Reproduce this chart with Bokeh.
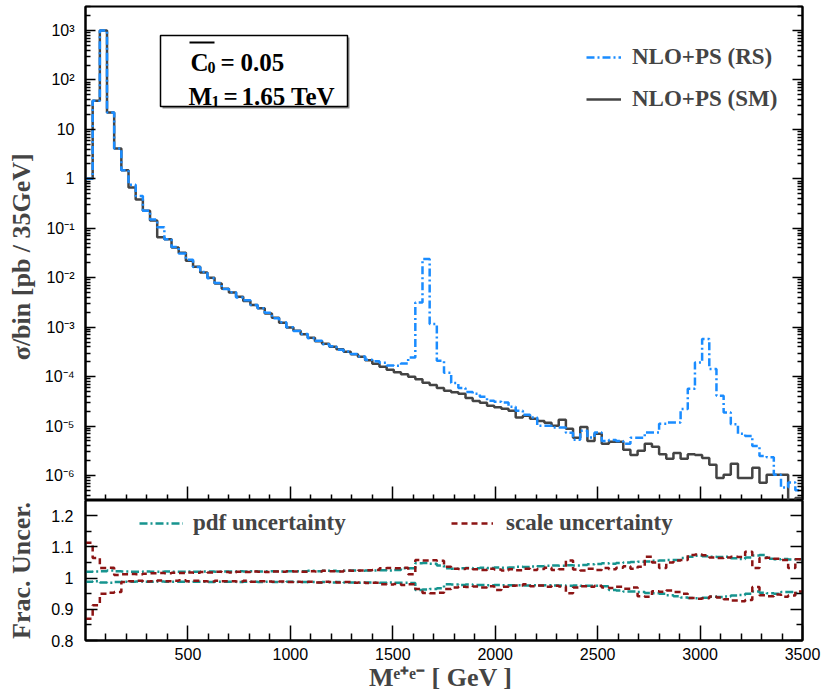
import numpy as np
from bokeh.plotting import figure
from bokeh.layouts import column
from bokeh.models import (FixedTicker, LogAxis, LinearAxis, Range1d, Label, BoxAnnotation,
                          Legend, LegendItem, CustomJSTickFormatter, ColumnDataSource)
from bokeh.embed import file_html
from bokeh.resources import INLINE

# ---------------- data ----------------
bin_width = 35.0
bin_lo = np.arange(0, 3500, 35.0)          # lower bin edges [GeV]

sigma_sm = [
    1.0, 38, 1000, 22, 4.1, 1.5, 0.67, 0.38, 0.227, 0.143,
    0.066, 0.060, 0.041, 0.032, 0.022, 0.0167, 0.0128, 0.0100, 0.0076, 0.0060,
    0.0050, 0.0041, 0.0034, 0.0028, 0.0024, 0.0019, 0.00155, 0.00123, 0.00099, 0.00085,
    0.00072, 0.00061, 0.00052, 0.00046, 0.00040, 0.000357, 0.000318, 0.000282, 0.000252, 0.000214,
    0.000182, 0.000158, 0.000137, 0.000122, 0.000111, 9.9e-5, 8.8e-5, 7.5e-5, 6.8e-5, 5.9e-5,
    5.2e-5, 4.8e-5, 4.5e-5, 3.7e-5, 3.2e-5, 2.95e-5, 2.56e-5, 2.39e-5, 2.23e-5, 2.03e-5,
    1.49e-5, 1.61e-5, 1.40e-5, 1.27e-5, 1.16e-5, 1.01e-5, 1.34e-5, 8.8e-6, 5.8e-6, 9.6e-6,
    5.0e-6, 7.0e-6, 4.4e-6, 4.8e-6, 4.8e-6, 3.3e-6, 2.6e-6, 3.15e-6, 4.4e-6, 3.8e-6,
    2.7e-6, 2.17e-6, 2.86e-6, 2.17e-6, 2.7e-6, 2.6e-6, 2.27e-6, 1.64e-6, 8.9e-7, 1.03e-6,
    1.72e-6, 8.9e-7, 8.9e-7, 1.43e-6, 7.1e-7, 1.03e-6, 1.03e-6, 1.03e-6, 1.0e-7, 3.5e-7,
]

sigma_rs = [
    1.0, 38, 1000, 22, 4.1, 1.5, 0.76, 0.45, 0.227, 0.15,
    0.105, 0.060, 0.042, 0.031, 0.023, 0.0165, 0.0130, 0.0098, 0.0078, 0.0059,
    0.0051, 0.0040, 0.0035, 0.0028, 0.0024, 0.00195, 0.00152, 0.00125, 0.00100, 0.00084,
    0.00073, 0.00060, 0.00053, 0.00045, 0.00041, 0.000350, 0.000322, 0.000285, 0.000255, 0.000220,
    0.000205, 0.000190, 0.000168, 0.000166, 0.000184, 0.000244, 0.00316, 0.0239, 0.00116, 0.000209,
    0.000119, 7.4e-5, 5.9e-5, 4.9e-5, 4.5e-5, 3.9e-5, 3.24e-5, 3.1e-5, 2.99e-5, 2.45e-5,
    2.03e-5, 1.69e-5, 1.49e-5, 1.01e-5, 1.01e-5, 9.3e-6, 9.3e-6, 7.3e-6, 5.3e-6, 8.0e-6,
    5.85e-6, 7.4e-6, 5.0e-6, 5.2e-6, 5.0e-6, 4.4e-6, 5.8e-6, 5.8e-6, 7.4e-6, 7.4e-6,
    1.11e-5, 1.18e-5, 1.18e-5, 2.2e-5, 5.66e-5, 1.93e-4, 5.74e-4, 1.42e-4, 4.1e-5, 1.87e-5,
    1.09e-5, 7.0e-6, 6.3e-6, 3.97e-6, 2.49e-6, 2.35e-6, 1.03e-6, 5.7e-7, 7.2e-7, 5.0e-7,
]

pdf_up = [
    1.020, 1.021, 1.022, 1.024, 1.022, 1.021, 1.020, 1.020, 1.021, 1.020,
    1.020, 1.021, 1.020, 1.020, 1.021, 1.020, 1.021, 1.021, 1.020, 1.021,
    1.021, 1.022, 1.021, 1.022, 1.021, 1.022, 1.022, 1.021, 1.022, 1.022,
    1.022, 1.023, 1.022, 1.023, 1.023, 1.022, 1.023, 1.024, 1.023, 1.024,
    1.024, 1.025, 1.024, 1.026, 1.031, 1.031, 1.047, 1.048, 1.046, 1.040,
    1.031, 1.030, 1.031, 1.032, 1.031, 1.033, 1.032, 1.034, 1.033, 1.034,
    1.036, 1.035, 1.037, 1.038, 1.039, 1.040, 1.039, 1.041, 1.040, 1.042,
    1.044, 1.045, 1.047, 1.046, 1.048, 1.050, 1.051, 1.052, 1.053, 1.055,
    1.056, 1.058, 1.058, 1.064, 1.068, 1.071, 1.070, 1.068, 1.067, 1.068,
    1.063, 1.061, 1.066, 1.072, 1.074, 1.062, 1.060, 1.061, 1.059, 1.060,
]
pdf_dn = [
    0.988, 0.990, 0.986, 0.985, 0.987, 0.988, 0.988, 0.989, 0.988, 0.988,
    0.989, 0.988, 0.988, 0.988, 0.989, 0.988, 0.988, 0.987, 0.988, 0.988,
    0.988, 0.987, 0.988, 0.988, 0.987, 0.988, 0.987, 0.987, 0.988, 0.987,
    0.987, 0.987, 0.986, 0.987, 0.986, 0.987, 0.986, 0.986, 0.985, 0.986,
    0.986, 0.985, 0.986, 0.985, 0.985, 0.984, 0.962, 0.963, 0.965, 0.967,
    0.980, 0.979, 0.978, 0.979, 0.978, 0.978, 0.977, 0.978, 0.977, 0.977,
    0.977, 0.976, 0.977, 0.976, 0.977, 0.976, 0.976, 0.975, 0.976, 0.975,
    0.975, 0.975, 0.974, 0.962, 0.960, 0.957, 0.957, 0.955, 0.952, 0.951,
    0.950, 0.945, 0.942, 0.938, 0.936, 0.935, 0.937, 0.940, 0.939, 0.941,
    0.944, 0.946, 0.950, 0.957, 0.953, 0.951, 0.950, 0.955, 0.955, 0.952,
]
scale_up = [
    1.113, 1.064, 1.032, 1.033, 1.010, 1.012, 1.013, 1.012, 1.014, 1.015,
    1.016, 1.015, 1.017, 1.016, 1.018, 1.017, 1.019, 1.018, 1.020, 1.019,
    1.018, 1.020, 1.019, 1.021, 1.020, 1.019, 1.021, 1.020, 1.022, 1.021,
    1.020, 1.022, 1.021, 1.023, 1.022, 1.021, 1.024, 1.023, 1.024, 1.025,
    1.026, 1.031, 1.032, 1.031, 1.033, 1.012, 1.058, 1.056, 1.057, 1.055,
    1.036, 1.030, 1.029, 1.031, 1.028, 1.026, 1.030, 1.027, 1.024, 1.028,
    1.025, 1.030, 1.026, 1.029, 1.033, 1.026, 1.028, 1.056, 1.027, 1.024,
    1.030, 1.026, 1.032, 1.028, 1.033, 1.038, 1.030, 1.036, 1.068, 1.050,
    1.032, 1.050, 1.056, 1.058, 1.074, 1.075, 1.073, 1.066, 1.064, 1.066,
    1.068, 1.067, 1.084, 1.032, 1.064, 1.065, 1.062, 1.058, 1.032, 1.060,
]
scale_dn = [
    0.870, 0.913, 0.950, 0.953, 0.955, 0.987, 0.990, 0.991, 0.989, 0.990,
    0.992, 0.990, 0.991, 0.993, 0.990, 0.991, 0.990, 0.989, 0.991, 0.990,
    0.990, 0.989, 0.991, 0.988, 0.990, 0.989, 0.988, 0.989, 0.987, 0.988,
    0.987, 0.988, 0.986, 0.988, 0.987, 0.986, 0.987, 0.985, 0.986, 0.984,
    0.985, 0.980, 0.979, 0.981, 0.978, 0.980, 0.965, 0.952, 0.951, 0.953,
    0.965, 0.970, 0.972, 0.971, 0.973, 0.970, 0.974, 0.962, 0.972, 0.975,
    0.976, 0.980, 0.974, 0.976, 0.972, 0.975, 0.973, 0.951, 0.970, 0.974,
    0.972, 0.975, 0.970, 0.968, 0.972, 0.966, 0.970, 0.942, 0.940, 0.958,
    0.956, 0.960, 0.955, 0.950, 0.936, 0.934, 0.935, 0.941, 0.938, 0.932,
    0.928, 0.926, 0.930, 0.971, 0.945, 0.942, 0.947, 0.940, 0.944, 0.957,
]

x_major = [500, 1000, 1500, 2000, 2500, 3000, 3500]
x_minor = [v for v in range(100, 3500, 100) if v % 500 != 0]
y_log_major = [1e-6, 1e-5, 1e-4, 1e-3, 1e-2, 1e-1, 1, 10, 100, 1000]
y_log_minor = [m * d for d in [1e-7, 1e-6, 1e-5, 1e-4, 1e-3, 1e-2, 1e-1, 1, 10, 100, 1000]
               for m in range(2, 10)]
y_lin_major = [0.8, 0.9, 1.0, 1.1, 1.2]
y_lin_minor = [0.85, 0.95, 1.05, 1.15, 1.25]

def step_src(vals):
    xs = list(bin_lo) + [bin_lo[-1] + bin_width]
    ys = list(vals) + [vals[-1]]
    return ColumnDataSource(dict(x=xs, y=ys))

# ---------------- styles ----------------
C_RS = "#1a8cff"
C_SM = "#444444"
C_PDF = "#17948f"
C_SCALE = "#8c1414"
SERIF = "Liberation Serif"
SANS = "Liberation Sans"

def style_axis(ax, major_in, minor_in, show_labels=True):
    ax.major_tick_in = major_in
    ax.major_tick_out = 0
    ax.minor_tick_in = minor_in
    ax.minor_tick_out = 0
    ax.axis_line_width = 2
    ax.axis_line_color = "black"
    ax.major_tick_line_width = 1.5
    ax.minor_tick_line_width = 1.5
    ax.major_tick_line_color = "black"
    ax.minor_tick_line_color = "black"
    ax.major_label_text_font = SANS
    ax.major_label_text_color = "black"
    if show_labels:
        ax.major_label_text_font_size = "16px"
    else:
        ax.formatter = CustomJSTickFormatter(code="return '';")
        ax.major_label_text_font_size = "1px"
        ax.major_label_standoff = 0
        ax.axis_label_standoff = 0

def screen_box(fig, l, r, t, b, **kw):
    fig.add_layout(BoxAnnotation(left=l, right=r, top=t, bottom=b,
                                 left_units="screen", right_units="screen",
                                 top_units="screen", bottom_units="screen",
                                 fill_alpha=1, line_alpha=1, **kw))

def lab(fig, x, y, text, size, bold=True):
    fig.add_layout(Label(x=x, y=y, x_units="screen", y_units="screen", text=text,
                         text_font=SERIF, text_font_size=size,
                         text_font_style="bold" if bold else "normal",
                         text_baseline="alphabetic", text_align="left",
                         text_color="black"))

# ---------------- top panel ----------------
top = figure(frame_width=717, frame_height=494, x_range=Range1d(0, 3500),
             y_range=Range1d(3.12e-7, 3060), y_axis_type="log",
             output_backend="svg", toolbar_location=None,
             min_border_left=85, min_border_right=22, min_border_top=6, min_border_bottom=0)
top.grid.visible = False
top.outline_line_color = "black"
top.outline_line_width = 2
top.background_fill_color = "white"
top.border_fill_color = "white"

xa = top.xaxis[0]
xa.ticker = FixedTicker(ticks=x_major, minor_ticks=x_minor)
style_axis(xa, 14, 6, show_labels=False)

ya = top.yaxis[0]
ya.ticker = FixedTicker(ticks=y_log_major, minor_ticks=y_log_minor)
ya.formatter = CustomJSTickFormatter(code="""
const sup = {"-":"\u207b","0":"\u2070","1":"\u00b9","2":"\u00b2","3":"\u00b3","4":"\u2074",
             "5":"\u2075","6":"\u2076","7":"\u2077","8":"\u2078","9":"\u2079"};
const e = Math.round(Math.log10(tick));
if (e == 0) return "1";
if (e == 1) return "10";
return "10" + String(e).split("").map(c => sup[c]).join("");
""")
style_axis(ya, 10, 5)
ya.major_label_standoff = 11
ya.axis_label = "\u03c3/bin  [pb / 35GeV]"
ya.axis_label_text_font = SERIF
ya.axis_label_text_font_style = "bold"
ya.axis_label_text_font_size = "26px"
ya.axis_label_standoff = 6

ra = LogAxis(ticker=FixedTicker(ticks=y_log_major, minor_ticks=y_log_minor))
style_axis(ra, 10, 5, show_labels=False)
top.add_layout(ra, "right")

sm_r = top.step("x", "y", source=step_src(sigma_sm), mode="after",
                line_color=C_SM, line_width=2.5)
rs_r = top.step("x", "y", source=step_src(sigma_rs), mode="after",
                line_color=C_RS, line_width=2.5, line_dash="8 3 2 3")

leg_top = Legend(items=[LegendItem(label="NLO+PS (RS)", renderers=[rs_r]),
                        LegendItem(label="NLO+PS (SM)", renderers=[sm_r])],
                 location=(501, 388), orientation="vertical", padding=0, margin=0,
                 spacing=16, glyph_width=35, glyph_height=26, label_height=26,
                 label_standoff=11, label_text_font=SERIF, label_text_font_style="bold",
                 label_text_font_size="23px", border_line_color=None,
                 background_fill_alpha=0)
top.add_layout(leg_top, "center")

# parameter box (shadow, box, overline of C0)
screen_box(top, 77, 264, 463, 392, fill_color="#8a8a8a", line_color=None)
screen_box(top, 75, 262, 465, 394, fill_color="white", line_color="black", line_width=1.5)
screen_box(top, 104, 129, 459, 457, fill_color="black", line_color=None)

lab(top, 105, 438, "C", "25px")
lab(top, 122, 433, "0", "16px")
lab(top, 135, 438, "=", "25px")
lab(top, 155, 438, "0.05", "25px")
lab(top, 103, 404, "M", "25px")
lab(top, 126, 399, "1", "16px")
lab(top, 138, 404, "=", "25px")
lab(top, 156, 404, "1.65 TeV", "25px")

# ---------------- bottom panel ----------------
bot = figure(frame_width=717, frame_height=140, x_range=top.x_range,
             y_range=Range1d(0.8, 1.248),
             output_backend="svg", toolbar_location=None,
             min_border_left=85, min_border_right=22, min_border_top=0, min_border_bottom=54)
bot.grid.visible = False
bot.outline_line_color = "black"
bot.outline_line_width = 2
bot.background_fill_color = "white"
bot.border_fill_color = "white"

bxa = bot.xaxis[0]
bxa.ticker = FixedTicker(ticks=x_major, minor_ticks=x_minor)
style_axis(bxa, 15, 7)
bxa.major_label_standoff = 7
bxa.axis_label = "M\u1d49\u207a\u1d49\u207b  [ GeV ]"
bxa.axis_label_text_font = SERIF
bxa.axis_label_text_font_style = "bold"
bxa.axis_label_text_font_size = "26px"
bxa.axis_label_standoff = 0

bya = bot.yaxis[0]
bya.ticker = FixedTicker(ticks=y_lin_major, minor_ticks=y_lin_minor)
bya.major_label_overrides = {0.8: "0.8", 0.9: "0.9", 1.0: "1", 1.1: "1.1", 1.2: "1.2"}
style_axis(bya, 12, 6)
bya.major_label_standoff = 12
bya.axis_label = "Frac. Uncer."
bya.axis_label_text_font = SERIF
bya.axis_label_text_font_style = "bold"
bya.axis_label_text_font_size = "26px"
bya.axis_label_standoff = 12

bra = LinearAxis(ticker=FixedTicker(ticks=y_lin_major, minor_ticks=y_lin_minor))
style_axis(bra, 12, 6, show_labels=False)
bot.add_layout(bra, "right")

pu_r = bot.step("x", "y", source=step_src(pdf_up), mode="after",
                line_color=C_PDF, line_width=2.5, line_dash="8 3 2 3")
bot.step("x", "y", source=step_src(pdf_dn), mode="after",
         line_color=C_PDF, line_width=2.5, line_dash="8 3 2 3")
su_r = bot.step("x", "y", source=step_src(scale_up), mode="after",
                line_color=C_SCALE, line_width=2.5, line_dash="6 4")
bot.step("x", "y", source=step_src(scale_dn), mode="after",
         line_color=C_SCALE, line_width=2.5, line_dash="6 4")

for items, loc, gw, st in [([LegendItem(label="pdf uncertainty", renderers=[pu_r])], (54, 104), 44, 10),
                           ([LegendItem(label="scale uncertainty", renderers=[su_r])], (366, 104), 42, 13)]:
    bot.add_layout(Legend(items=items, location=loc, orientation="horizontal",
                          padding=0, margin=0, glyph_width=gw, glyph_height=26,
                          label_height=26, label_standoff=st, label_text_font=SERIF,
                          label_text_font_style="bold", label_text_font_size="23px",
                          border_line_color=None, background_fill_alpha=0), "center")

layout = column(top, bot, spacing=0)
open("out.html", "w").write(file_html(layout, INLINE))
